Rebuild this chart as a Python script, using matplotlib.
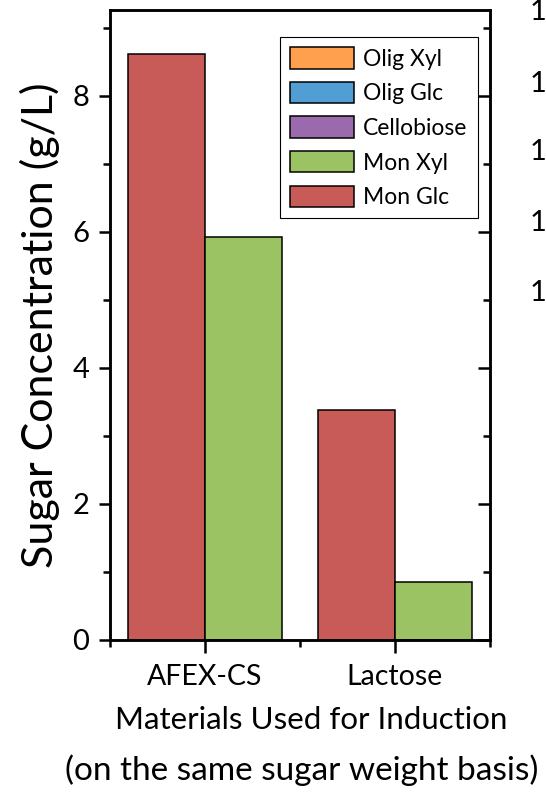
import matplotlib
matplotlib.use("Agg")
import matplotlib.pyplot as plt
import matplotlib.patches as patches
from matplotlib.ticker import MultipleLocator, FixedLocator
import numpy as np

# --- data ---
materials = ["AFEX-CS", "Lactose"]
series = ["Olig Xyl", "Olig Glc", "Cellobiose", "Mon Xyl", "Mon Glc"]
olig_xyl = [0.0, 0.0]
olig_glc = [0.0, 0.0]
cellobiose = [0.0, 0.0]
mon_xyl = [5.93, 0.85]
mon_glc = [8.62, 3.38]
colors = ["#FFA04F", "#509ED4", "#9B6AAC", "#9BC263", "#C85A57"]

text_font = ["Lato", "DejaVu Sans"]

fig = plt.figure(figsize=(5.46, 7.94), dpi=100)
ax = fig.add_axes([110 / 546, 1 - 640 / 794, 380 / 546, 630 / 794])

x = np.arange(1, len(materials) + 1)
w = 0.405
ax.bar(x - w / 2, mon_glc, w, color=colors[4], edgecolor="black", linewidth=1.1, zorder=2)
ax.bar(x + w / 2, mon_xyl, w, color=colors[3], edgecolor="black", linewidth=1.1, zorder=2)

ax.set_xlim(0.5, 2.5)
ax.set_ylim(0, 9.26)

# left axis: outward ticks with labels
ax.yaxis.set_major_locator(MultipleLocator(2))
ax.yaxis.set_minor_locator(MultipleLocator(1))
ax.tick_params(axis="y", which="major", direction="out", length=8, width=1.8,
               labelsize=21, pad=7)
ax.tick_params(axis="y", which="minor", direction="out", length=5, width=1.8)
for lab in ax.get_yticklabels():
    lab.set_family(text_font)

# bottom axis: categories, minor ticks between groups
ax.set_xticks(x)
ax.set_xticklabels(materials, family=text_font, fontsize=20.5)
ax.xaxis.set_minor_locator(FixedLocator([0.5, 1.5, 2.5]))
ax.tick_params(axis="x", which="major", direction="out", length=9, width=1.8, pad=8)
ax.tick_params(axis="x", which="minor", direction="out", length=5, width=1.8)

# right axis: inward ticks, no labels
ax2 = ax.twinx()
ax2.set_ylim(ax.get_ylim())
ax2.yaxis.set_major_locator(MultipleLocator(2))
ax2.yaxis.set_minor_locator(MultipleLocator(1))
ax2.tick_params(axis="y", which="major", direction="in", length=9, width=1.8, labelright=False)
ax2.tick_params(axis="y", which="minor", direction="in", length=5, width=1.8)

for a in (ax, ax2):
    for sp in a.spines.values():
        sp.set_linewidth(1.8)

ax.set_ylabel("Sugar Concentration (g/L)", family=text_font, fontsize=31, labelpad=9)

# two-line x title
fig.text(311 / 546, 1 - 720 / 794, "Materials Used for Induction",
         ha="center", va="center", family=text_font, fontsize=22.5)
fig.text(302 / 546, 1 - 770 / 794, "(on the same sugar weight basis)",
         ha="center", va="center", family=text_font, fontsize=24)

handles = [patches.Patch(facecolor=c, edgecolor="black", linewidth=1.1) for c in colors]
leg = ax2.legend(handles, series, loc="upper right", bbox_to_anchor=(478 / 546, 1 - 37 / 794),
                 bbox_transform=fig.transFigure, prop={"family": text_font, "size": 16.5},
                 frameon=True, fancybox=False, edgecolor="black", framealpha=1,
                 handlelength=2.8, handleheight=1.05, handletextpad=0.4,
                 labelspacing=0.53, borderpad=0.45, borderaxespad=0)
leg.get_frame().set_linewidth(0.8)

# clipped tick labels of a neighbouring panel at the right edge
for yy in [12, 84, 152, 223, 293]:
    fig.text(538 / 546, 1 - yy / 794, "1", ha="center", va="center",
             family=text_font, fontsize=21)

fig.savefig("out.png", dpi=100)
